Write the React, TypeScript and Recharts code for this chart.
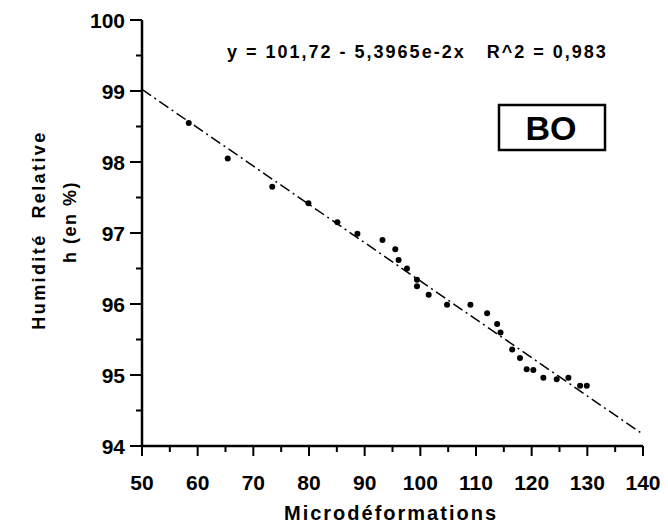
import React from 'react';
import { ComposedChart, Scatter, XAxis, YAxis, ReferenceLine, Customized } from 'recharts';

const microX = [58.4, 65.4, 73.4, 79.9, 85.1, 88.7, 93.2, 95.5, 96.1, 97.6, 99.4, 99.4, 101.5, 104.8, 109.0, 112.0, 113.8, 114.4, 116.5, 117.9, 119.1, 120.3, 122.1, 124.5, 126.6, 128.7, 129.9];
const humidityY = [98.55, 98.05, 97.65, 97.42, 97.15, 96.99, 96.90, 96.77, 96.62, 96.50, 96.34, 96.25, 96.13, 95.99, 95.99, 95.87, 95.72, 95.60, 95.36, 95.24, 95.08, 95.07, 94.96, 94.94, 94.96, 94.85, 94.85];

const fitIntercept = 101.72;
const fitSlope = -5.3965e-2;
const xRange = [50, 140];
const xTicks = [50, 55, 60, 65, 70, 75, 80, 85, 90, 95, 100, 105, 110, 115, 120, 125, 130, 135, 140];
const yTicks = [94, 94.5, 95, 95.5, 96, 96.5, 97, 97.5, 98, 98.5, 99, 99.5, 100];
const equationText = 'y = 101,72 - 5,3965e-2x   R^2 = 0,983';
const sampleLabel = 'BO';
const xTitle = 'Microdéformations';
const yTitle1 = 'Humidité  Relative';
const yTitle2 = 'h (en %)';

const data = microX.map((x, i) => ({ x, y: humidityY[i] }));
const FONT = '"Liberation Sans", Arial, Helvetica, sans-serif';

const XTick = (props: any) => {
  const { x, y, payload } = props;
  const v = payload.value;
  const major = v % 10 === 0;
  return (
    <g>
      <line x1={x} y1={y} x2={x} y2={y + (major ? 10 : 6)} stroke="#000" strokeWidth={2} />
      {major && (
        <text x={x} y={y + 44} textAnchor="middle" fontFamily={FONT} fontWeight="bold" fontSize={21} fill="#000">
          {v}
        </text>
      )}
    </g>
  );
};

const YTick = (props: any) => {
  const { x, y, payload } = props;
  const v = payload.value;
  const major = Number.isInteger(v);
  return (
    <g>
      <line x1={x - (major ? 12 : 6)} y1={y} x2={x} y2={y} stroke="#000" strokeWidth={2} />
      {major && (
        <text x={x - 17} y={y + 7.5} textAnchor="end" fontFamily={FONT} fontWeight="bold" fontSize={21} fill="#000">
          {v}
        </text>
      )}
    </g>
  );
};

const Annotations = () => (
  <g>
    <text x={227} y={58} fontFamily={FONT} fontWeight="bold" fontSize={18} letterSpacing={2} fill="#000" style={{ whiteSpace: 'pre' }}>
      {equationText}
    </text>
    <rect x={499} y={105} width={106} height={45} fill="none" stroke="#000" strokeWidth={2.5} />
    <text x={551} y={140} textAnchor="middle" fontFamily={FONT} fontWeight="bold" fontSize={34} fill="#000">
      {sampleLabel}
    </text>
    <text x={391} y={520} textAnchor="middle" fontFamily={FONT} fontWeight="bold" fontSize={20} letterSpacing={2} fill="#000">
      {xTitle}
    </text>
    <text transform="translate(45,230) rotate(-90)" textAnchor="middle" fontFamily={FONT} fontWeight="bold" fontSize={18} letterSpacing={2.4} fill="#000" style={{ whiteSpace: 'pre' }}>
      {yTitle1}
    </text>
    <text transform="translate(76,222) rotate(-90)" textAnchor="middle" fontFamily={FONT} fontWeight="bold" fontSize={18} letterSpacing={1.5} fill="#000">
      {yTitle2}
    </text>
  </g>
);

export default function App() {
  const fitStart = { x: xRange[0], y: fitIntercept + fitSlope * xRange[0] };
  const fitEnd = { x: xRange[1], y: fitIntercept + fitSlope * xRange[1] };
  return (
    <div style={{ position: 'absolute', left: 0, top: 0, width: 668, height: 532, background: '#fff' }}>
      <ComposedChart width={668} height={532} data={data} margin={{ top: 20, right: 25, bottom: 56, left: 82 }}>
        <XAxis
          xAxisId="b"
          type="number"
          dataKey="x"
          domain={[50, 140]}
          ticks={xTicks}
          interval={0}
          tickSize={0}
          tickMargin={0}
          tickLine={false}
          tick={<XTick />}
          axisLine={{ stroke: '#000', strokeWidth: 2.5 }}
          height={30}
          allowDataOverflow
        />
        <XAxis xAxisId="t" orientation="top" type="number" domain={[50, 140]} tick={false} tickLine={false} axisLine={{ stroke: '#000', strokeWidth: 2.5 }} height={0} />
        <YAxis
          yAxisId="l"
          type="number"
          dataKey="y"
          domain={[94, 100]}
          ticks={yTicks}
          interval={0}
          tickSize={0}
          tickMargin={0}
          tickLine={false}
          tick={<YTick />}
          axisLine={{ stroke: '#000', strokeWidth: 2.5 }}
          width={60}
          allowDataOverflow
        />
        <YAxis yAxisId="r" orientation="right" type="number" domain={[94, 100]} tick={false} tickLine={false} axisLine={{ stroke: '#000', strokeWidth: 2.5 }} width={0} />
        <ReferenceLine
          xAxisId="b"
          yAxisId="l"
          segment={[fitStart, fitEnd]}
          stroke="#000"
          strokeWidth={1.5}
          strokeDasharray="11 4 2 4"
          ifOverflow="visible"
        />
        <Scatter xAxisId="b" yAxisId="l" dataKey="y" fill="#000" isAnimationActive={false} shape={(p: any) => <circle cx={p.cx} cy={p.cy} r={3} fill="#000" />} />
        <Customized component={Annotations} />
      </ComposedChart>
    </div>
  );
}
